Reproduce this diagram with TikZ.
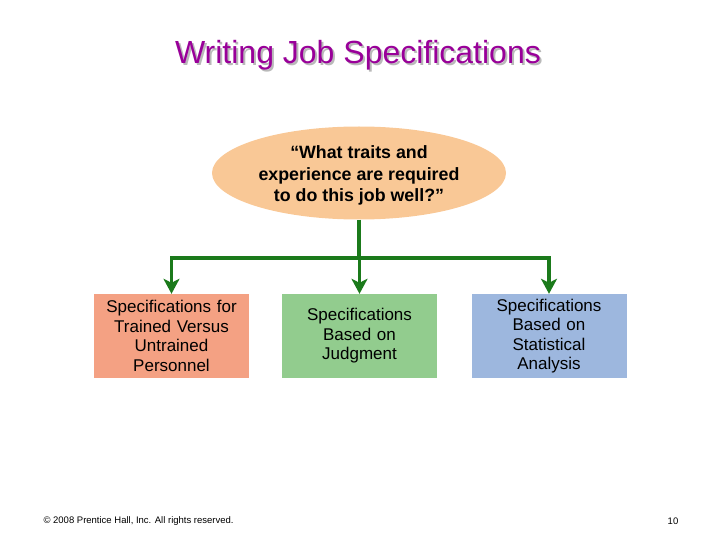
\documentclass[tikz,border=0pt]{standalone}
\usepackage{fontspec}
\setmainfont{Liberation Sans}
\usetikzlibrary{shapes,arrows.meta,positioning,calc}
\definecolor{titlepurple}{HTML}{990099}
\definecolor{linkgreen}{HTML}{1B7A1B}
\definecolor{peach}{HTML}{F9C896}
\definecolor{salmon}{HTML}{F4A183}
\definecolor{leaf}{HTML}{92CC8E}
\definecolor{sky}{HTML}{9DB7DE}
\newcommand{\shadowed}[1]{\makebox[0pt][l]{\hspace{2pt}\raisebox{-2pt}{\color{gray!55}#1}}#1}

\begin{document}
\begin{tikzpicture}[
  x=1pt, y=-1pt,
  specbox/.style={rectangle, fill=#1, minimum width=155pt, minimum height=84pt,
    inner xsep=2pt, align=center, text width=151pt, font=\fontsize{17}{19.5}\selectfont},
  link/.style={linkgreen, line width=3.5pt},
  arr/.style={link, -{Stealth[length=15pt, width=16pt, inset=4pt]}}
]
  \useasboundingbox (0,0) rectangle (720,540);
  % title with its shadow
  \node[titlepurple, font=\fontsize{32}{36}\selectfont] (title) at (358,56) {\shadowed{Writing Job Specifications}};
  % question
  \node[ellipse, fill=peach, minimum width=294pt, minimum height=93pt, align=center,
    font=\bfseries\fontsize{17.8}{21.5}\selectfont, inner sep=0pt] (q) at (359,173)
    {\rule{0pt}{18pt}“What traits and\\experience are required\\to do this job well?”};
  % the three kinds of specification
  \node[specbox=salmon] (trained) at (171.5,336) {Specifications for\\Trained Versus\\Untrained\\Personnel};
  \node[specbox=leaf] (judg) at (359.5,336) {Specifications\\Based on\\Judgment};
  \node[specbox=sky] (stat) at (549,336) {Specifications\\Based on\\Statistical\\Analysis};
  \coordinate (hub) at (359,258);
  \draw[link] (q.south) -- (hub);
  \foreach \b in {trained,judg,stat} {\draw[arr] (hub) -| (\b);}
  % footer
  \node[font=\fontsize{9.5}{11}\selectfont, anchor=west] (copy) at (40,521) {© 2008 Prentice Hall, Inc. All rights reserved.};
  \node[font=\fontsize{9.5}{11}\selectfont] (page) at (673,521) {10};
\end{tikzpicture}
\end{document}
